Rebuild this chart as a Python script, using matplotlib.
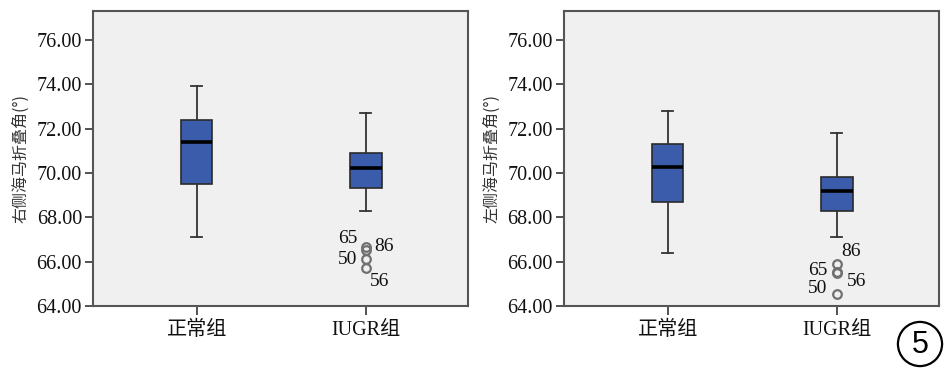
import matplotlib
matplotlib.use("Agg")
import matplotlib.pyplot as plt
from matplotlib.patches import Circle

plt.rcParams['font.family'] = ['Liberation Serif', 'Noto Sans CJK SC', 'DejaVu Sans']

categories = ["正常组", "IUGR组"]
ylabels = ["右侧海马折叠角(°)", "左侧海马折叠角(°)"]
yticks = [64, 66, 68, 70, 72, 74, 76]

# right side (panel 1)
right_whislo = [67.1, 68.3]
right_q1 = [69.5, 69.3]
right_med = [71.4, 70.2]
right_q3 = [72.4, 70.9]
right_whishi = [73.9, 72.7]
right_fliers = [[], [66.67, 66.52, 66.1, 65.71]]
right_flier_ids = [[], ["86", "65", "50", "56"]]

# left side (panel 2)
left_whislo = [66.4, 67.1]
left_q1 = [68.7, 68.3]
left_med = [70.25, 69.2]
left_q3 = [71.3, 69.8]
left_whishi = [72.8, 71.8]
left_fliers = [[], [65.9, 65.55, 65.47, 64.52]]
left_flier_ids = [[], ["86", "65", "56", "50"]]

# label offsets in points (style)
right_offsets = [(13, 0), (-13, 8), (-13, 0), (10, -10)]
left_offsets = [(10, 9), (-14, 1), (14, -6), (-14, 4)]

fig = plt.figure(figsize=(9.45, 3.68), dpi=100)
axes_pos = [[0.0984, 0.1685, 0.3968, 0.8015], [0.5968, 0.1685, 0.3968, 0.8015]]

datasets = [
    (right_whislo, right_q1, right_med, right_q3, right_whishi, right_fliers, right_flier_ids, right_offsets),
    (left_whislo, left_q1, left_med, left_q3, left_whishi, left_fliers, left_flier_ids, left_offsets),
]

for i, (wlo, q1, med, q3, whi, fl, ids, offs) in enumerate(datasets):
    ax = fig.add_axes(axes_pos[i])
    ax.set_facecolor('#f0f0f0')
    stats = []
    for j in range(len(categories)):
        stats.append(dict(whislo=wlo[j], q1=q1[j], med=med[j], q3=q3[j],
                          whishi=whi[j], fliers=fl[j], label=categories[j]))
    ax.bxp(stats, positions=range(len(categories)), widths=0.185, patch_artist=True,
           boxprops=dict(facecolor='#3b5bab', edgecolor='#2a2a2a', linewidth=1.2),
           medianprops=dict(color='black', linewidth=2.6),
           whiskerprops=dict(color='#333333', linewidth=1.3),
           capprops=dict(color='#333333', linewidth=1.3),
           capwidths=0.065,
           flierprops=dict(marker='o', markersize=6.2, markerfacecolor='none',
                           markeredgecolor='#707070', markeredgewidth=1.6))
    for j in range(len(categories)):
        for v, lab, off in zip(fl[j], ids[j], offs):
            ax.annotate(lab, (j, v), xytext=off, textcoords='offset points',
                        ha='center', va='center', fontsize=14, color='#111111',
                        family='Liberation Serif')
    ax.set_xlim(-0.614, 1.603)
    ax.set_ylim(64, 77.3)
    ax.set_yticks(yticks)
    ax.set_yticklabels([f"{t:.2f}" for t in yticks], fontsize=14.5, family='Liberation Serif')
    ax.set_xticks(range(len(categories)))
    ax.set_xticklabels(categories, fontsize=14.5, family=['Liberation Serif', 'Noto Sans CJK SC'])
    ax.tick_params(axis='y', direction='out', length=6, width=1.3, color='#444444',
                   labelcolor='#111111', pad=2)
    ax.tick_params(axis='x', direction='out', length=6.5, width=1.3, color='#444444',
                   labelcolor='#111111', pad=4)
    for s in ax.spines.values():
        s.set_color('#555555')
        s.set_linewidth(1.5)
    ax.set_ylabel(ylabels[i], fontsize=11.5, color='#333333',
                  family=['Noto Sans CJK SC', 'DejaVu Sans'], labelpad=5)

circ_ax = fig.add_axes([896 / 945, 0.0, 48 / 945, 48 / 368])
circ_ax.set_xlim(0, 1)
circ_ax.set_ylim(0, 1)
circ_ax.axis('off')
circ_ax.add_patch(Circle((0.5, 0.5), 0.46, facecolor='none', edgecolor='black', linewidth=1.6))
circ_ax.text(0.5, 0.48, "5", ha='center', va='center', fontsize=22,
             family='Liberation Sans', color='black')

fig.savefig("out.png", dpi=100)
